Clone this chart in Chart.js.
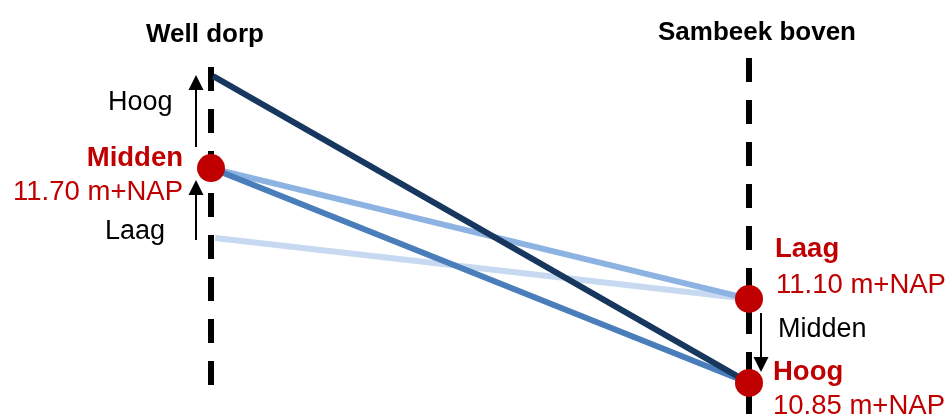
<!DOCTYPE html>
<html>
<head>
<meta charset="utf-8">
<script src="https://cdn.jsdelivr.net/npm/chart.js@4"></script>
<style>
    html, body { margin: 0; padding: 0; background: #fff; }
    #chart { display: block; }
</style>
</head>
<body>
<canvas id="chart" width="948" height="414"></canvas>
<script>
// stations on the x axis (0 = Well dorp, 1 = Sambeek boven)
const stations = ['Well dorp', 'Sambeek boven'];

// scenario lines: from level at Well dorp to level at Sambeek boven (schematic level, 0-100)
const scenarioNames = ['Hoog-Hoog', 'Midden-Hoog', 'Midden-Laag', 'Laag-Laag'];
const wellDorpLevels = [81.6, 59.4, 59.4, 42.5];
const sambeekLevels = [7.5, 7.5, 27.8, 27.8];
const lineStart = [0.004, 0, 0, 0.008];

// marked points (red)
const markerStation = [0, 1, 1];
const markerLevel = [59.4, 27.8, 7.5];
const markerName = ['Midden', 'Laag', 'Hoog'];
const markerNap = ['11.70 m+NAP', '11.10 m+NAP', '10.85 m+NAP'];

// dashed station lines (top, bottom)
const wellDorpAxis = [83.8, 6.8];
const sambeekAxis = [86.0, -5];

const lineColors = ['#17375e', '#4a7ebb', '#8db3e2', '#c6d9f1'];
const red = '#c00000';
const font = "'Liberation Sans', Arial, sans-serif";

const datasets = [];

// rode punten bovenop
datasets.push({
    label: 'punten',
    data: markerStation.map((s, i) => ({ x: s, y: markerLevel[i] })),
    showLine: false,
    pointRadius: 14,
    pointBackgroundColor: red,
    pointBorderWidth: 0,
    order: 0,
    clip: false
});

scenarioNames.forEach((name, i) => {
    datasets.push({
        label: name,
        data: [{ x: lineStart[i], y: wellDorpLevels[i] }, { x: 1, y: sambeekLevels[i] }],
        showLine: true,
        borderColor: lineColors[i],
        borderWidth: 6,
        pointRadius: 0,
        order: 1 + i,
        clip: false
    });
});

// stippellijnen
[wellDorpAxis, sambeekAxis].forEach((axis, i) => {
    datasets.push({
        label: stations[i],
        data: [{ x: i, y: axis[0] }, { x: i, y: axis[1] }],
        showLine: true,
        borderColor: '#000',
        borderWidth: 6,
        borderDash: [24, 18],
        borderCapStyle: 'butt',
        pointRadius: 0,
        order: 10,
        clip: false
    });
});

function arrow(ctx, x, y1, y2) {
    // shaft from y1 to tip at y2
    const dir = y2 > y1 ? 1 : -1;
    ctx.save();
    ctx.strokeStyle = '#000';
    ctx.fillStyle = '#000';
    ctx.lineWidth = 2;
    ctx.beginPath();
    ctx.moveTo(x, y1);
    ctx.lineTo(x, y2 - dir * 14);
    ctx.stroke();
    ctx.beginPath();
    ctx.moveTo(x, y2);
    ctx.lineTo(x - 7.5, y2 - dir * 15);
    ctx.lineTo(x + 7.5, y2 - dir * 15);
    ctx.closePath();
    ctx.fill();
    ctx.restore();
}

const labelPlugin = {
    id: 'labels',
    afterDatasetsDraw(chart) {
        const ctx = chart.ctx;
        const xs = chart.scales.x;
        const ys = chart.scales.y;
        const xL = xs.getPixelForValue(0);
        const xR = xs.getPixelForValue(1);
        ctx.save();
        ctx.textBaseline = 'alphabetic';

        // station titles
        ctx.fillStyle = '#000';
        ctx.textAlign = 'center';
        ctx.font = 'bold 26px ' + font;
        ctx.fillText(stations[0], xL - 6, 42);
        ctx.fillText(stations[1], xR + 8, 40);

        // punt labels
        const pts = markerStation.map((s, i) => ({
            x: xs.getPixelForValue(s),
            y: ys.getPixelForValue(markerLevel[i])
        }));
        ctx.fillStyle = red;
        // Midden links
        ctx.textAlign = 'right';
        ctx.font = 'bold 27.5px ' + font;
        ctx.fillText(markerName[0], pts[0].x - 28, pts[0].y - 2);
        ctx.font = '27.5px ' + font;
        ctx.fillText(markerNap[0], pts[0].x - 28, pts[0].y + 32);
        // Laag rechts
        ctx.textAlign = 'left';
        ctx.font = 'bold 27.5px ' + font;
        ctx.fillText(markerName[1], pts[1].x + 26, pts[1].y - 42);
        ctx.font = '27.5px ' + font;
        ctx.fillText(markerNap[1], pts[1].x + 27, pts[1].y - 6);
        // Hoog rechts
        ctx.font = 'bold 27.5px ' + font;
        ctx.fillText(markerName[2], pts[2].x + 24, pts[2].y - 3);
        ctx.font = '27.5px ' + font;
        ctx.fillText(markerNap[2], pts[2].x + 24, pts[2].y + 31);

        // zwarte aanduidingen en pijlen
        ctx.fillStyle = '#000';
        ctx.font = '27px ' + font;
        ctx.textAlign = 'left';
        ctx.fillText('Hoog', xL - 103, 110);
        ctx.fillText('Laag', xL - 106, 239);
        ctx.fillText('Midden', xR + 29, 337);

        arrow(ctx, xL - 15, 147, 75);
        arrow(ctx, xL - 15, 240, 180);
        arrow(ctx, xR + 12, 313, 372);
        ctx.restore();
    }
};

new Chart(document.getElementById('chart'), {
    type: 'scatter',
    data: { datasets: datasets },
    options: {
        responsive: false,
        animation: false,
        layout: { autoPadding: false, padding: { left: 211, right: 199, top: 0, bottom: 0 } },
        scales: {
            x: { type: 'linear', min: 0, max: 1, display: false },
            y: { type: 'linear', min: 0, max: 100, display: false }
        },
        plugins: {
            legend: { display: false },
            tooltip: { enabled: false }
        }
    },
    plugins: [labelPlugin]
});
</script>
</body>
</html>
